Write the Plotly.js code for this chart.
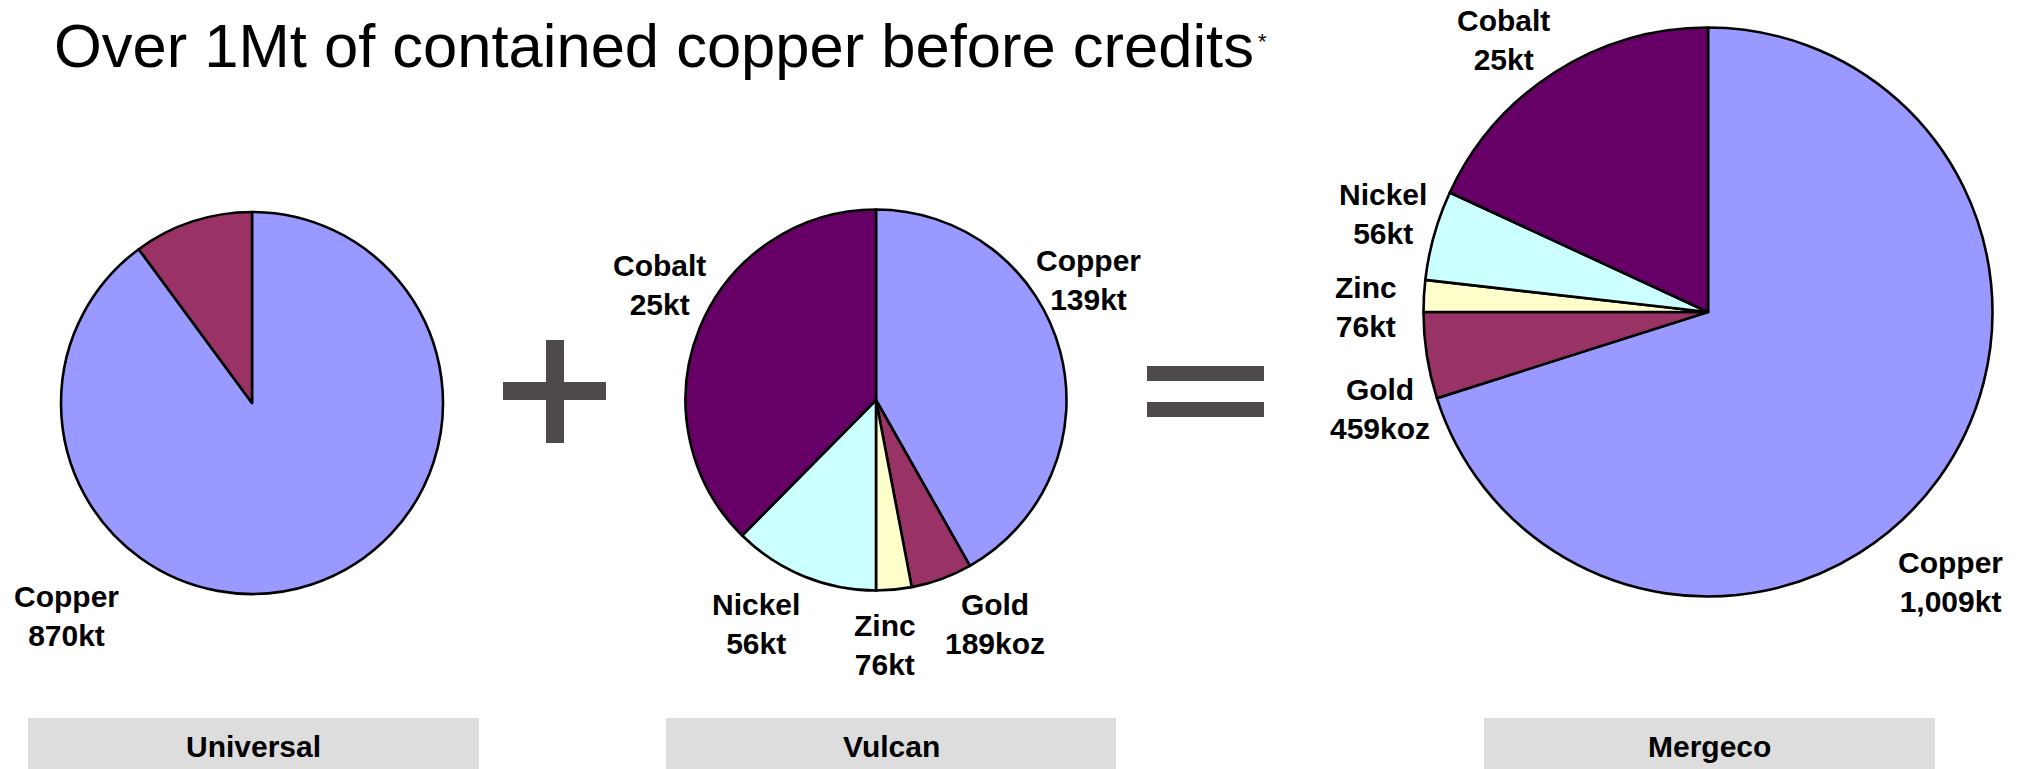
<!DOCTYPE html>
<html><head><meta charset="utf-8">
<script src="https://cdn.plot.ly/plotly-3.0.1.min.js"></script>
<style>html,body{margin:0;padding:0;background:#fff;overflow:hidden}#chart{width:2025px;height:769px;}</style>
</head><body><div id="chart"></div>
<script>
// ---------- data ----------
const titleText = 'Over 1Mt of contained copper before credits';
const titleNote = '*';
const groupNames = ['Universal', 'Vulcan', 'Mergeco'];

const universalLabels = ['Copper', 'Gold'];
const universalShares = [89.9, 10.1];
const universalAmounts = ['870kt', null];

const vulcanLabels = ['Copper', 'Gold', 'Zinc', 'Nickel', 'Cobalt'];
const vulcanShares = [41.8, 5.2, 3.0, 12.4, 37.6];
const vulcanAmounts = ['139kt', '189koz', '76kt', '56kt', '25kt'];

const mergecoLabels = ['Copper', 'Gold', 'Zinc', 'Nickel', 'Cobalt'];
const mergecoShares = [70.1, 4.9, 1.8, 5.1, 18.1];
const mergecoAmounts = ['1,009kt', '459koz', '76kt', '56kt', '25kt'];

const metalColors = {Copper: '#9999FF', Gold: '#993366', Zinc: '#FFFFCC', Nickel: '#CCFFFF', Cobalt: '#660066'};

// ---------- layout helpers (pixel geometry) ----------
const W = 2025, H = 769;
const px = x => x / W;
const py = y => 1 - y / H;
const FONT = '"Liberation Sans", Arial, Helvetica, sans-serif';

// pie circles: centre x, centre y, radius (pixels)
const pieGeom = [
  {cx: 252, cy: 403, r: 191},
  {cx: 876, cy: 400, r: 190.5},
  {cx: 1708, cy: 312, r: 284.5}
];
// label centres (pixels), in slice order
const labelPos = [
  [[66, 616], null],
  [[1088, 280], [995, 624], [885, 645], [756, 624], [659, 285]],
  [[1950, 582], [1380, 409], [1366, 307], [1383, 214], [1503, 40]]
];
const boxGeom = [[28, 479], [666, 1116], [1484, 1935]];

const pies = [
  [universalLabels, universalShares, universalAmounts],
  [vulcanLabels, vulcanShares, vulcanAmounts],
  [mergecoLabels, mergecoShares, mergecoAmounts]
];

const traces = pies.map(([labels, values], i) => {
  const g = pieGeom[i];
  return {
    type: 'pie', labels: labels, values: values, sort: false,
    direction: 'clockwise', rotation: 0, textinfo: 'none', hoverinfo: 'label+value',
    marker: {colors: labels.map(l => metalColors[l]), line: {color: '#000000', width: 2.6}},
    domain: {x: [px(g.cx - g.r), px(g.cx + g.r)], y: [py(g.cy + g.r), py(g.cy - g.r)]},
    showlegend: false
  };
});

const annotations = [];
pies.forEach(([labels, values, amounts], i) => {
  labels.forEach((l, j) => {
    if (!amounts[j] || !labelPos[i][j]) return;
    const [x, y] = labelPos[i][j];
    annotations.push({
      xref: 'paper', yref: 'paper', x: px(x), y: py(y), xanchor: 'center', yanchor: 'middle',
      text: '<b>' + l + '<br>' + amounts[j] + '</b>', showarrow: false, align: 'center',
      font: {family: FONT, size: 30, color: '#000000'}
    });
  });
});
groupNames.forEach((n, i) => {
  const [x0, x1] = boxGeom[i];
  annotations.push({
    xref: 'paper', yref: 'paper', x: px((x0 + x1) / 2), y: py(746), xanchor: 'center', yanchor: 'middle',
    text: '<b>' + n + '</b>', showarrow: false, font: {family: FONT, size: 30, color: '#000000'}
  });
});
annotations.push({
  xref: 'paper', yref: 'paper', x: px(52), y: py(45), xanchor: 'left', yanchor: 'middle',
  text: titleText, showarrow: false, font: {family: FONT, size: 61.5, color: '#000000'}
});
annotations.push({
  xref: 'paper', yref: 'paper', x: px(1262), y: py(42), xanchor: 'center', yanchor: 'middle',
  text: titleNote, showarrow: false, font: {family: FONT, size: 22, color: '#000000'}
});

const shapes = [];
boxGeom.forEach(([x0, x1]) => {
  shapes.push({type: 'rect', xref: 'paper', yref: 'paper', x0: px(x0), x1: px(x1), y0: py(769), y1: py(718),
    fillcolor: '#DDDDDD', line: {width: 0}, layer: 'below'});
});
const signColor = '#4D494D';
// plus sign
shapes.push({type: 'rect', xref: 'paper', yref: 'paper', x0: px(546), x1: px(564), y0: py(443), y1: py(340), fillcolor: signColor, line: {width: 0}});
shapes.push({type: 'rect', xref: 'paper', yref: 'paper', x0: px(503), x1: px(606), y0: py(400), y1: py(382), fillcolor: signColor, line: {width: 0}});
// equals sign
shapes.push({type: 'rect', xref: 'paper', yref: 'paper', x0: px(1147), x1: px(1264), y0: py(381), y1: py(366), fillcolor: signColor, line: {width: 0}});
shapes.push({type: 'rect', xref: 'paper', yref: 'paper', x0: px(1147), x1: px(1264), y0: py(417), y1: py(402), fillcolor: signColor, line: {width: 0}});

const layout = {
  width: W, height: H, margin: {l: 0, r: 0, t: 0, b: 0},
  paper_bgcolor: '#FFFFFF', plot_bgcolor: '#FFFFFF',
  annotations: annotations, shapes: shapes, showlegend: false
};
Plotly.newPlot('chart', traces, layout, {displayModeBar: false, staticPlot: true});
</script>
</body></html>
